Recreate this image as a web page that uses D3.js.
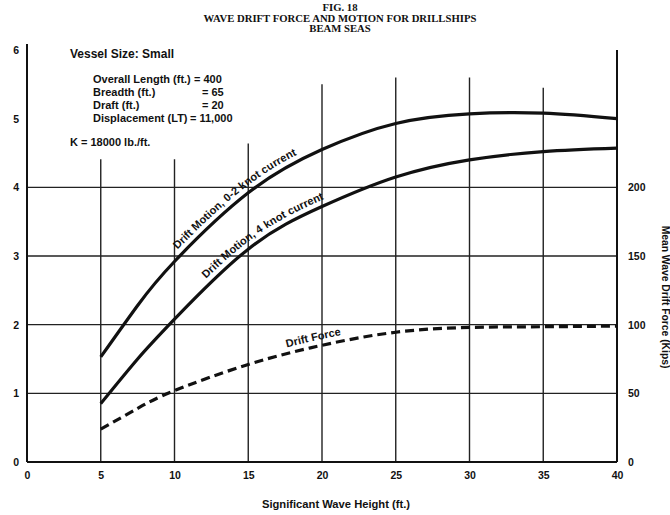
<!DOCTYPE html>
<html>
<head>
<meta charset="utf-8">
<script src="https://d3js.org/d3.v7.min.js"></script>
<style>
  body { margin: 0; background: #fff; }
  svg { display: block; font-family: 'Liberation Sans', Arial, sans-serif; }
  .tick text { font-size: 10.5px; font-weight: bold; fill: #111; }
  .title { font-family: 'Liberation Serif', 'Times New Roman', serif; font-weight: bold; font-size: 10.7px; fill: #111; }
  .note { font-size: 11px; font-weight: bold; fill: #111; }
  .curve-label { font-size: 11px; font-weight: bold; fill: #111; }
  .axis-title { font-size: 11.2px; font-weight: bold; fill: #111; }
</style>
</head>
<body>
<div id="chart"></div>
<script>
// values
var waveHeight = [5, 7.5, 10, 15, 20, 25, 30, 35, 40];
var motionLowCurrent = [1.53, 2.28, 2.92, 3.92, 4.55, 4.93, 5.07, 5.08, 5.0];
var motionHighCurrent = [0.85, 1.5, 2.08, 3.1, 3.72, 4.15, 4.4, 4.52, 4.57];
var driftForceKips = [24, 39, 52, 71, 85, 94.5, 98, 98.5, 99];

var xTicks = [0, 5, 10, 15, 20, 25, 30, 35, 40];
var yTicks = [0, 1, 2, 3, 4, 5, 6];
var forceTicks = [0, 50, 100, 150, 200];
var hGrid = [1, 2, 3, 4];
var vGrid = [5, 10, 15, 20, 25, 30, 35];

var titleLines = ["FIG. 18", "WAVE DRIFT FORCE AND MOTION FOR DRILLSHIPS", "BEAM SEAS"];
var vesselLine = "Vessel Size: Small";
var specLabels = ["Overall Length (ft.)", "Breadth (ft.)", "Draft (ft.)", "Displacement (LT)"];
var specValues = ["= 400", "= 65", "= 20", "= 11,000"];
var kLine = "K = 18000 lb./ft.";
var curveLabels = ["Drift Motion, 0-2 knot current", "Drift Motion, 4 knot current", "Drift Force"];
var xTitle = "Significant Wave Height (ft.)";
var forceTitle = "Mean Wave Drift Force (Kips)";

var width = 670, height = 515;

var svg = d3.select("#chart").append("svg")
    .attr("width", width)
    .attr("height", height);

var x = d3.scaleLinear().domain([0, 40]).range([27, 617]);
var y = d3.scaleLinear().domain([0, 6]).range([462, 50]);
var yForce = d3.scaleLinear().domain([0, 300]).range([462, 50]);

/* title */
svg.selectAll(".title")
  .data(titleLines)
  .enter().append("text")
    .attr("class", "title")
    .attr("x", 340)
    .attr("y", function (d, i) { return 11 + i * 10.5; })
    .attr("text-anchor", "middle")
    .text(function (d) { return d; });

/* grid lines */
var grid = svg.append("g").attr("stroke", "#222").attr("stroke-width", 1.4);

grid.selectAll(".hgrid")
  .data(hGrid)
  .enter().append("line")
    .attr("x1", x(0)).attr("x2", x(40))
    .attr("y1", function (d) { return y(d); })
    .attr("y2", function (d) { return y(d); });

// vertical lines stop short of the text block, as in the figure
var gridTop = { 5: 4.41, 10: 4.41, 15: 4.64, 20: 5.5, 25: 5.6, 30: 5.6, 35: 5.45 };
grid.selectAll(".vgrid")
  .data(vGrid)
  .enter().append("line")
    .attr("x1", function (d) { return x(d); })
    .attr("x2", function (d) { return x(d); })
    .attr("y1", function (d) { return y(gridTop[d]); })
    .attr("y2", y(0));

/* frame lines */
var frame = svg.append("g").attr("stroke", "#111").attr("stroke-width", 2);
frame.append("line").attr("x1", x(0)).attr("x2", x(0)).attr("y1", 44).attr("y2", y(0));
frame.append("line").attr("x1", x(0)).attr("x2", x(40)).attr("y1", y(0)).attr("y2", y(0));
frame.append("line").attr("x1", x(40)).attr("x2", x(40)).attr("y1", y(6)).attr("y2", y(0));

/* axes (labels only) */
svg.append("g")
    .attr("transform", "translate(" + x(0) + ",0)")
    .call(d3.axisLeft(y).tickValues(yTicks).tickFormat(d3.format("d")).tickSize(0).tickPadding(8))
    .call(function (g) { g.select(".domain").remove(); });

svg.append("g")
    .attr("transform", "translate(0," + y(0) + ")")
    .call(d3.axisBottom(x).tickValues(xTicks).tickFormat(d3.format("d")).tickSize(0).tickPadding(10))
    .call(function (g) { g.select(".domain").remove(); });

svg.append("g")
    .attr("transform", "translate(" + x(40) + ",0)")
    .call(d3.axisRight(yForce).tickValues(forceTicks).tickFormat(d3.format("d")).tickSize(0).tickPadding(11))
    .call(function (g) { g.select(".domain").remove(); });

svg.selectAll(".tick text").attr("font-family", null).attr("font-size", null);

svg.append("text")
    .attr("class", "axis-title")
    .attr("x", 336)
    .attr("y", 508)
    .attr("text-anchor", "middle")
    .text(xTitle);

svg.append("text")
    .attr("class", "axis-title")
    .attr("transform", "translate(662,297) rotate(90)")
    .attr("text-anchor", "middle")
    .style("font-size", "10.3px")
    .text(forceTitle);

/* vessel notes */
svg.append("text").attr("class", "note").attr("x", 70).attr("y", 58)
    .style("font-size", "12px").text(vesselLine);
var valueX = [194, 202, 202, 190];
specLabels.forEach(function (d, i) {
  svg.append("text").attr("class", "note").attr("x", 93).attr("y", 83 + i * 13).text(d);
  svg.append("text").attr("class", "note").attr("x", valueX[i]).attr("y", 83 + i * 13).text(specValues[i]);
});
svg.append("text").attr("class", "note").attr("x", 70).attr("y", 146).text(kLine);

/* curves */
var motionLine = d3.line()
    .x(function (d) { return x(d[0]); })
    .y(function (d) { return y(d[1]); })
    .curve(d3.curveNatural);

var forceLine = d3.line()
    .x(function (d) { return x(d[0]); })
    .y(function (d) { return yForce(d[1]); })
    .curve(d3.curveNatural);

var series = [
  { id: "c0", pts: d3.zip(waveHeight, motionLowCurrent), gen: motionLine, dash: null, labelAt: 10.5 },
  { id: "c1", pts: d3.zip(waveHeight, motionHighCurrent), gen: motionLine, dash: null, labelAt: 12.4 },
  { id: "c2", pts: d3.zip(waveHeight, driftForceKips), gen: forceLine, dash: "9,5", labelAt: 17.7 }
];

series.forEach(function (s, i) {
  var path = svg.append("path")
      .attr("id", s.id)
      .attr("d", s.gen(s.pts))
      .attr("fill", "none")
      .attr("stroke", "#111")
      .attr("stroke-width", 3.2)
      .attr("stroke-dasharray", s.dash);

  // find distance along the path where the label starts
  var node = path.node(), len = node.getTotalLength(), target = x(s.labelAt), off = 0;
  for (var t = 0; t <= len; t += 0.5) {
    if (node.getPointAtLength(t).x >= target) { off = t; break; }
  }

  svg.append("text")
      .attr("class", "curve-label")
    .append("textPath")
      .attr("href", "#" + s.id)
      .attr("startOffset", off)
    .append("tspan")
      .attr("dy", -6)
      .text(curveLabels[i]);
});
</script>
</body>
</html>
